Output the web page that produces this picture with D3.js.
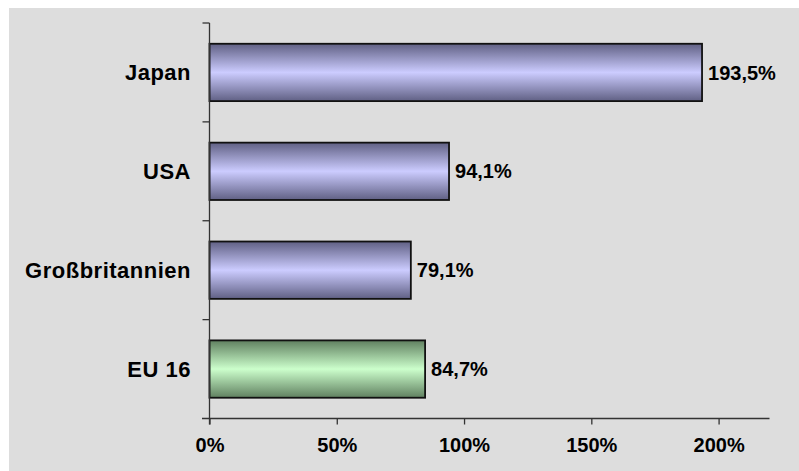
<!DOCTYPE html>
<html>
<head>
<meta charset="utf-8">
<script src="https://cdn.jsdelivr.net/npm/d3@7"></script>
<style>
html,body{margin:0;padding:0;background:#fff;}
svg{display:block;}
text{font-family:"Liberation Sans",Arial,sans-serif;font-weight:bold;fill:#000;}
</style>
</head>
<body>
<svg id="chart" width="799" height="471"></svg>
<script>
const categories = ["Japan", "USA", "Großbritannien", "EU 16"];
const values = [193.5, 94.1, 79.1, 84.7];
const valueLabels = ["193,5%", "94,1%", "79,1%", "84,7%"];
const barKinds = ["blue", "blue", "blue", "green"];
const xTicks = [0, 50, 100, 150, 200];
const xMax = 220;

(function () {
const svg = d3.select("#chart");
const W = 799, H = 471;
svg.append("rect").attr("x", 9).attr("y", 8).attr("width", W - 9).attr("height", H - 8).attr("fill", "#dddddd");

const pLeft = 209.5, pRight = 769.5, pTop = 23, pBottom = 418.5;

const defs = svg.append("defs");
function grad(id, edge, mid) {
  const g = defs.append("linearGradient").attr("id", id).attr("x1", 0).attr("y1", 0).attr("x2", 0).attr("y2", 1);
  g.append("stop").attr("offset", "0%").attr("stop-color", edge);
  g.append("stop").attr("offset", "50%").attr("stop-color", mid);
  g.append("stop").attr("offset", "100%").attr("stop-color", edge);
}
grad("gblue", "#606084", "#ccccff");
grad("ggreen", "#608060", "#ccffcc");

const x = d3.scaleLinear().domain([0, xMax]).range([pLeft, pRight]);
const y = d3.scaleBand().domain(categories).range([pTop, pBottom]).paddingInner(0.42).paddingOuter(0.21);

// bars
svg.selectAll("rect.bar").data(categories).enter().append("rect")
  .attr("class", "bar")
  .attr("x", x(0))
  .attr("y", d => y(d))
  .attr("width", (d, i) => x(values[i]) - x(0))
  .attr("height", y.bandwidth())
  .attr("fill", (d, i) => barKinds[i] === "green" ? "url(#ggreen)" : "url(#gblue)")
  .attr("stroke", "#111")
  .attr("stroke-width", 1.8);

// value labels
svg.selectAll("text.val").data(categories).enter().append("text")
  .attr("class", "val")
  .attr("x", (d, i) => x(values[i]) + 6)
  .attr("y", d => y(d) + y.bandwidth() / 2 + 7.1)
  .attr("font-size", "20px")
  .text((d, i) => valueLabels[i]);

// x axis
const xAxis = d3.axisBottom(x).tickValues(xTicks).tickFormat(d => d + "%").tickSize(6).tickSizeOuter(0);
const gx = svg.append("g").attr("transform", `translate(0,${pBottom})`).call(xAxis);
gx.select(".domain").remove();
gx.append("line").attr("x1", 202).attr("x2", pRight).attr("y1", 0).attr("y2", 0).attr("stroke", "#333").attr("stroke-width", 1.3);
gx.selectAll(".tick line").attr("stroke", "#333").attr("stroke-width", 1.3);
gx.selectAll(".tick text").attr("font-size", "20px").attr("font-family", "Liberation Sans, Arial, sans-serif")
  .attr("font-weight", "bold").attr("fill", "#000").attr("y", 19.5).attr("dy", "0.71em");

// y axis
svg.append("line").attr("x1", pLeft).attr("x2", pLeft).attr("y1", pTop).attr("y2", pBottom + 6).attr("stroke", "#333").attr("stroke-width", 1.3);
const boundaries = categories.map(d => y(d) - y.step() * y.paddingInner() / 2);
svg.selectAll("line.ytick").data(boundaries).enter().append("line")
  .attr("class", "ytick")
  .attr("x1", pLeft - 7).attr("x2", pLeft)
  .attr("y1", d => d).attr("y2", d => d)
  .attr("stroke", "#333").attr("stroke-width", 1.3);

// category labels
svg.selectAll("text.cat").data(categories).enter().append("text")
  .attr("class", "cat")
  .attr("x", 191)
  .attr("y", d => y(d) + y.bandwidth() / 2 + 7.8)
  .attr("text-anchor", "end")
  .attr("font-size", "22px")
  .attr("letter-spacing", "0.5px")
  .text(d => d);
})();
</script>
</body>
</html>
